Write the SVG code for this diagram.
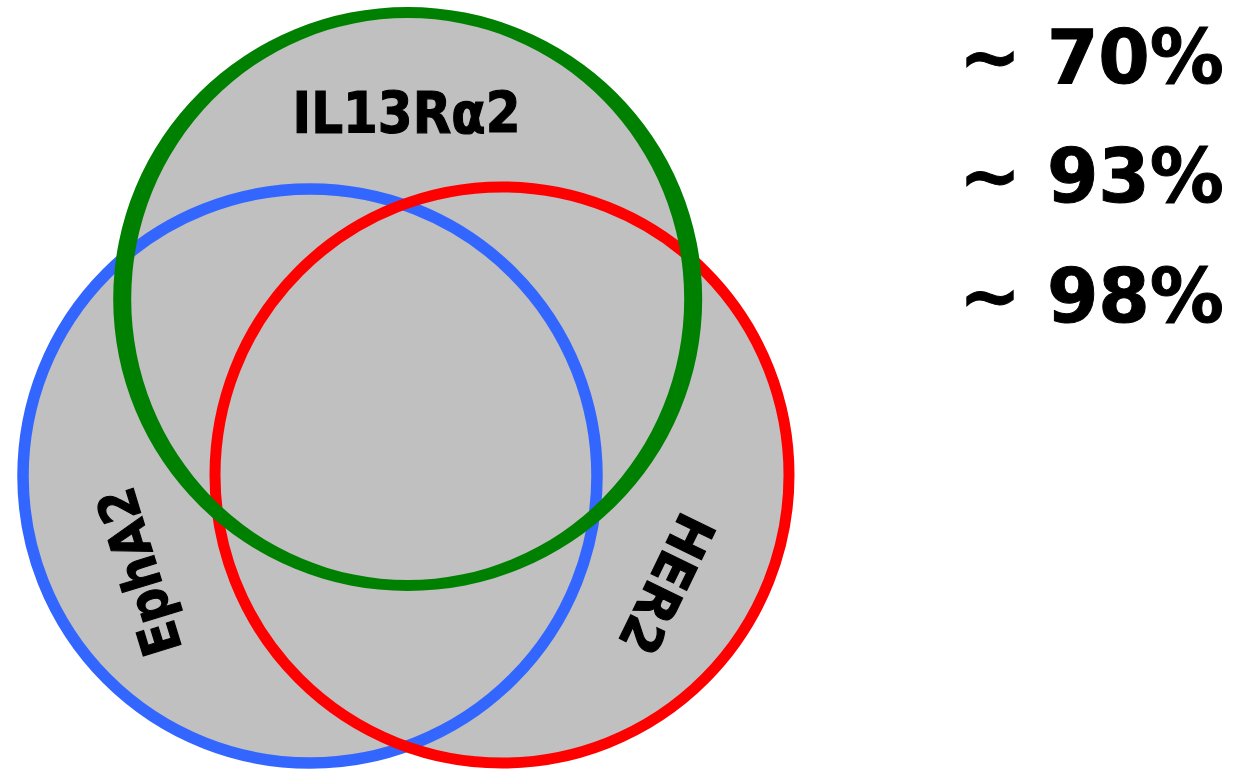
<svg xmlns="http://www.w3.org/2000/svg" width="1238" height="770" viewBox="0 0 1238 770">
  <style>
    .fill { fill: #c0c0c0; stroke: none; }
    .lbl { font-family: "DejaVu Sans", Verdana, sans-serif; font-weight: bold; fill: #000; stroke: #000; stroke-width: 1.2px; }
    .pct { font-family: "DejaVu Sans", Verdana, sans-serif; font-weight: bold; font-size: 74px; fill: #000; stroke: #000; stroke-width: 1px; }
  </style>
  <rect width="1238" height="770" fill="#ffffff"/>
  <g id="fills">
    <circle class="fill" cx="310" cy="476" r="285"/>
    <ellipse class="fill" cx="502" cy="475" rx="286" ry="287"/>
    <ellipse class="fill" cx="407.7" cy="299" rx="285" ry="286"/>
  </g>
  <g id="EphA2">
    <circle cx="310" cy="476" r="287" fill="none" stroke="#3366ff" stroke-width="11.5"/>
    <text class="lbl" font-size="54" text-anchor="middle" transform="translate(139,572) rotate(-107)" x="0" y="19" textLength="172" lengthAdjust="spacingAndGlyphs">EphA2</text>
  </g>
  <g id="HER2">
    <ellipse cx="502" cy="475" rx="287" ry="288" fill="none" stroke="#ff0000" stroke-width="11"/>
    <text class="lbl" font-size="54" text-anchor="middle" transform="translate(667,584) rotate(116)" x="0" y="19" textLength="148" lengthAdjust="spacingAndGlyphs">HER2</text>
  </g>
  <g id="IL13Ra2">
    <path fill="#008000" fill-rule="evenodd" d="M113.2,299 a294.5,292 0 1,0 589,0 a294.5,292 0 1,0 -589,0 Z M131.2,299 a276.5,281 0 1,0 553,0 a276.5,281 0 1,0 -553,0 Z"/>
    <text class="lbl" font-size="57" text-anchor="middle" x="406.5" y="133" textLength="228" lengthAdjust="spacingAndGlyphs">IL13Rα2</text>
  </g>
  <g id="percentages">
    <text class="pct" x="1224" y="83" text-anchor="end">~ 70%</text>
    <text class="pct" x="1224" y="202" text-anchor="end">~ 93%</text>
    <text class="pct" x="1224" y="322" text-anchor="end">~ 98%</text>
  </g>
  <g id="connectors"/>
</svg>
